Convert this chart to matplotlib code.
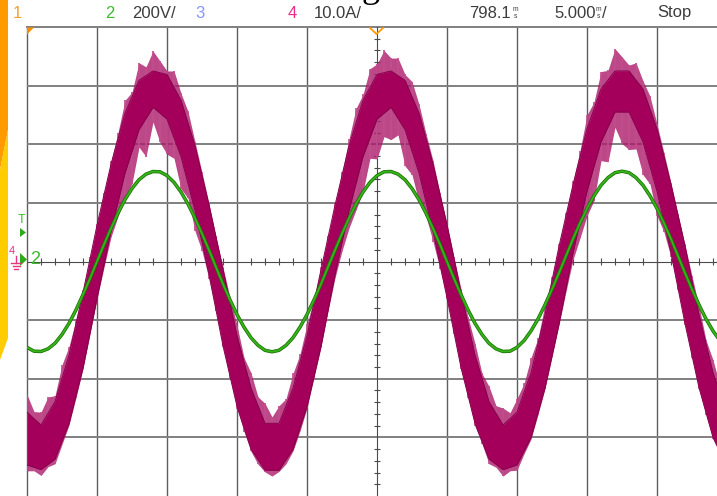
import numpy as np
import matplotlib.pyplot as plt
from matplotlib.patches import Polygon
from matplotlib.lines import Line2D

plt.rcParams['font.family'] = ['Liberation Sans', 'DejaVu Sans']

W, H = 717, 496

# scope settings
volts_per_div = 200.0
amps_per_div = 10.0

# time axis (ms from trigger), 1 ms samples for the current band
t_ms = [-25, -24, -23, -22, -21, -20, -19, -18, -17, -16,
        -15, -14, -13, -12, -11, -10, -9, -8, -7, -6,
        -5, -4, -3, -2, -1, 0, 1, 2, 3, 4,
        5, 6, 7, 8, 9, 10, 11, 12, 13, 14,
        15, 16, 17, 18, 19, 20, 21, 22, 23, 24, 25]

# channel 4: current (A), upper / lower edge of the dense trace band
amps_top = [-25.7, -27.9, -23.9, -16.0, -5.3, 6.2, 16.6, 25.3, 30.9, 32.5,
            31.9, 27.5, 19.7, 9.6, -1.4, -12.7, -21.6, -27.6, -27.6, -21.6,
            -12.7, -1.4, 9.6, 19.7, 27.5, 31.9, 32.5, 30.9, 25.3, 16.6,
            6.2, -5.3, -16.0, -23.9, -27.9, -25.7, -19.0, -9.1, 2.6, 13.1,
            22.6, 29.4, 32.5, 32.5, 29.4, 22.6, 13.1, 2.6, -9.1, -19.0, -25.7]
amps_bot = [-34.7, -35.5, -33.7, -27.6, -18.1, -6.2, 5.2, 15.1, 22.5, 26.3,
            24.3, 17.9, 8.7, -2.2, -14.4, -24.7, -32.0, -35.6, -35.6, -32.0,
            -24.7, -14.4, -2.2, 8.7, 17.9, 24.3, 26.3, 22.5, 15.1, 5.2,
            -6.2, -18.1, -27.6, -33.7, -35.5, -34.7, -30.0, -21.5, -10.6, 1.5,
            12.0, 20.4, 25.5, 25.5, 20.4, 12.0, 1.5, -10.6, -21.5, -30.0, -34.7]

# 0.5 ms samples: voltage and current ripple spikes
t_fine = [-25.0, -24.5, -24.0, -23.5, -23.0, -22.5, -22.0, -21.5, -21.0, -20.5,
          -20.0, -19.5, -19.0, -18.5, -18.0, -17.5, -17.0, -16.5, -16.0, -15.5,
          -15.0, -14.5, -14.0, -13.5, -13.0, -12.5, -12.0, -11.5, -11.0, -10.5,
          -10.0, -9.5, -9.0, -8.5, -8.0, -7.5, -7.0, -6.5, -6.0, -5.5,
          -5.0, -4.5, -4.0, -3.5, -3.0, -2.5, -2.0, -1.5, -1.0, -0.5,
          0.0, 0.5, 1.0, 1.5, 2.0, 2.5, 3.0, 3.5, 4.0, 4.5,
          5.0, 5.5, 6.0, 6.5, 7.0, 7.5, 8.0, 8.5, 9.0, 9.5,
          10.0, 10.5, 11.0, 11.5, 12.0, 12.5, 13.0, 13.5, 14.0, 14.5,
          15.0, 15.5, 16.0, 16.5, 17.0, 17.5, 18.0, 18.5, 19.0, 19.5,
          20.0, 20.5, 21.0, 21.5, 22.0, 22.5, 23.0, 23.5, 24.0, 24.5, 25.0]

# channel 2: mains voltage (V)
volts = [-293, -306, -307, -298, -279, -249, -211, -165, -113, -58,
         0, 58, 113, 165, 211, 249, 279, 298, 307, 306,
         293, 270, 237, 196, 148, 95, 39, -19, -77, -131,
         -181, -224, -260, -286, -303, -308, -303, -286, -260, -224,
         -181, -131, -77, -19, 39, 95, 148, 196, 237, 270,
         293, 306, 307, 298, 279, 249, 211, 165, 113, 58,
         0, -58, -113, -165, -211, -249, -279, -298, -307, -306,
         -293, -270, -237, -196, -148, -95, -39, 19, 77, 131,
         181, 224, 260, 286, 303, 308, 303, 286, 260, 224,
         181, 131, 77, 19, -39, -95, -148, -196, -237, -270, -293]

spike_hi = [-22.7, -25.6, -25.7, -23.1, -22.9, -17.6, -14.5, -9.9, -4.9, 0.7,
            6.4, 11.7, 17.1, 22.0, 27.5, 28.9, 33.9, 33.2, 35.9, 34.2,
            32.5, 32.5, 28.7, 25.6, 20.4, 15.2, 9.9, 4.3, -1.0, -6.1,
            -10.9, -16.4, -19.0, -23.1, -24.2, -26.5, -24.6, -23.4, -19.1, -15.8,
            -10.7, -6.3, -1.0, 4.3, 9.9, 15.3, 20.9, 26.1, 28.5, 32.9,
            33.7, 36.0, 34.7, 34.7, 31.9, 30.7, 26.8, 21.8, 17.2, 11.7,
            6.4, 0.8, -4.7, -9.5, -14.0, -19.1, -21.3, -24.6, -25.0, -25.8,
            -23.4, -20.8, -16.4, -13.1, -7.3, -2.7, 2.9, 8.2, 13.7, 18.9,
            25.0, 27.2, 32.4, 32.6, 36.3, 34.9, 33.5, 33.9, 30.8, 28.2,
            23.4, 18.5, 13.4, 8.1, 2.9, -2.5, -7.6, -13.4, -16.8, -21.2, -23.0]
spike_lo = [-35.7, -35.7, -36.5, -35.0, -34.5, -31.2, -27.9, -23.2, -18.3, -12.4,
            -6.4, -1.0, 4.2, 7.7, 11.1, 13.3, 19.5, 17.9, 23.8, 20.3,
            18.3, 17.6, 12.4, 10.8, 5.2, 1.8, -3.0, -8.5, -14.6, -19.9,
            -25.1, -29.0, -32.4, -34.6, -35.9, -36.6, -35.8, -34.5, -32.3, -28.9,
            -25.0, -19.8, -14.6, -8.5, -2.8, 1.8, 5.7, 8.8, 11.9, 17.6,
            17.5, 21.3, 20.8, 21.6, 16.3, 14.8, 10.1, 7.7, 3.4, -1.3,
            -6.4, -12.4, -18.4, -23.2, -28.1, -31.1, -34.5, -35.1, -36.6, -35.7,
            -35.6, -32.8, -30.3, -26.1, -21.7, -16.3, -10.8, -5.1, 0.3, 4.0,
            7.8, 10.4, 17.2, 17.0, 22.9, 20.1, 19.1, 19.2, 14.8, 13.2,
            7.8, 5.0, 0.7, -4.8, -10.8, -16.4, -21.8, -26.2, -30.3, -32.9, -35.5]

# header texts
hdr_ch = ['1', '2', '3', '4']
hdr_ch_x = [17, 110, 200, 292]
hdr_ch_col = ['#f5a02a', '#3dbb2c', '#8496ff', '#ee2a8a']
hdr_text = ['200V/', '10.0A/', '798.1', '5.000', '/', 'Stop']
hdr_text_x = [132, 314, 469, 554, 602, 657]
hdr_unit_x = [515, 598]

TEXT = '#3c3c3c'
GRID = '#808080'
FS = 12


def fx(px):
    return px / W


def fy(py):
    return 1 - py / H


fig = plt.figure(figsize=(W / 100, H / 100), dpi=100)
fig.patch.set_facecolor('white')

# graticule area: 10 div wide (cropped on the right), 8 div high
ax = fig.add_axes([fx(27), 0, fx(690), (H - 27) / H])
ax.set_xlim(-25, -25 + 690 / 14.0)
ax.set_ylim(-4, 4)
ax.axis('off')

for x in range(-25, 25, 5):
    if x == 0:
        continue
    ax.axvline(x, color='#5e5e5e', lw=1.0, zorder=1, clip_on=False)
for y in [-3, -2, -1, 1, 2, 3]:
    ax.axhline(y, color=GRID, lw=1.4, zorder=1)
ax.axhline(4, color=GRID, lw=1.4, zorder=1, clip_on=False)

# centre axes with minor ticks
ax.axhline(0, color='#4a4a4a', lw=0.8, zorder=1)
ax.axvline(0, color='#4a4a4a', lw=0.8, zorder=1)
minor_x = [v for v in np.arange(-24, 25, 1.0) if v % 5 != 0]
ax.vlines(minor_x, -0.055, 0.055, color='#4a4a4a', lw=0.8, zorder=1)
minor_y = [v for v in np.arange(-3.8, 3.9, 0.2) if abs(v - round(v)) > 0.05]
ax.hlines(minor_y, -0.22, 0.22, color='#4a4a4a', lw=0.8, zorder=1)

# current trace: ripple haze, spikes, dense core band
tf = np.array(t_fine)
s_lo = np.array(spike_lo) / amps_per_div
s_hi = np.array(spike_hi) / amps_per_div
ax.fill_between(tf, s_lo, s_hi, color='#ab1a6b', alpha=0.8, lw=0, zorder=2.4)
ax.vlines(tf, s_lo, s_hi, color='#c24d8d', lw=1.2, zorder=2.5)
t = np.array(t_ms)
top = np.array(amps_top) / amps_per_div
bot = np.array(amps_bot) / amps_per_div
ax.fill_between(t, bot, top, color='#a4005b', lw=0, zorder=3)
ax.plot(t, top, color='#86004b', lw=0.7, zorder=3.2)
ax.plot(t, bot, color='#86004b', lw=0.7, zorder=3.2)

# voltage trace
v = np.array(volts) / volts_per_div
ax.plot(tf, v, color='#1c6f09', lw=2.5, zorder=4, solid_joinstyle='round')
ax.plot(tf, v, color='#34b416', lw=1.4, zorder=4.1, solid_joinstyle='round')

# left colour strip
fig.add_artist(Polygon([(fx(0), fy(0)), (fx(8), fy(0)), (fx(8), fy(130)), (fx(0), fy(170))],
                       closed=True, transform=fig.transFigure, color='#ff9a00', lw=0))
fig.add_artist(Polygon([(fx(0), fy(170)), (fx(8), fy(130)), (fx(8), fy(338)), (fx(0), fy(360))],
                       closed=True, transform=fig.transFigure, color='#ffcc00', lw=0))

# header
for ch, x, c in zip(hdr_ch, hdr_ch_x, hdr_ch_col):
    fig.text(fx(x), fy(13), ch, color=c, fontsize=FS, ha='center', va='center')
for s, x in zip(hdr_text, hdr_text_x):
    fig.text(fx(x), fy(13), s, color=TEXT, fontsize=FS, ha='left', va='center')
for x in hdr_unit_x:
    fig.text(fx(x), fy(9.5), 'm', color=TEXT, fontsize=4.8, ha='center', va='center')
    fig.text(fx(x), fy(16.5), 's', color=TEXT, fontsize=4.8, ha='center', va='center')

# bit of a caption glyph cut off at the top
fig.text(fx(371), fy(-3), 'g', color='black', fontsize=26, ha='center', va='baseline',
         family=['Liberation Serif', 'DejaVu Serif'])

# markers
fig.add_artist(Polygon([(fx(27), fy(27.5)), (fx(34), fy(27.5)), (fx(27), fy(34.5))],
                       closed=True, transform=fig.transFigure, color='#ff8c00', lw=0))
fig.add_artist(Line2D([fx(370), fx(376.5), fx(383)], [fy(28), fy(34), fy(28)],
                      transform=fig.transFigure, color='#ff9a00', lw=1.3))
fig.text(fx(21.5), fy(220), 'T', color='#3dbb2c', fontsize=9, ha='center', va='center')
fig.add_artist(Polygon([(fx(20), fy(228)), (fx(20), fy(237)), (fx(26), fy(232.5))],
                       closed=True, transform=fig.transFigure, color='#2ea81c', lw=0))
fig.add_artist(Polygon([(fx(20), fy(253)), (fx(20), fy(266)), (fx(27), fy(259.5))],
                       closed=True, transform=fig.transFigure, color='#2ea81c', lw=0))
fig.text(fx(35), fy(260), '2', color='#3dbb2c', fontsize=13, ha='center', va='center')
fig.text(fx(12), fy(251), '4', color='#ee2a8a', fontsize=8, ha='center', va='center')
for yy, half in [(263, 5), (266, 3.5), (269, 2)]:
    fig.add_artist(Line2D([fx(16 - half), fx(16 + half)], [fy(yy), fy(yy)],
                          transform=fig.transFigure, color='#e8357f', lw=1.0))
fig.add_artist(Line2D([fx(16), fx(16)], [fy(256), fy(263)],
                      transform=fig.transFigure, color='#e8357f', lw=1.0))

fig.savefig('out.png', dpi=100)
